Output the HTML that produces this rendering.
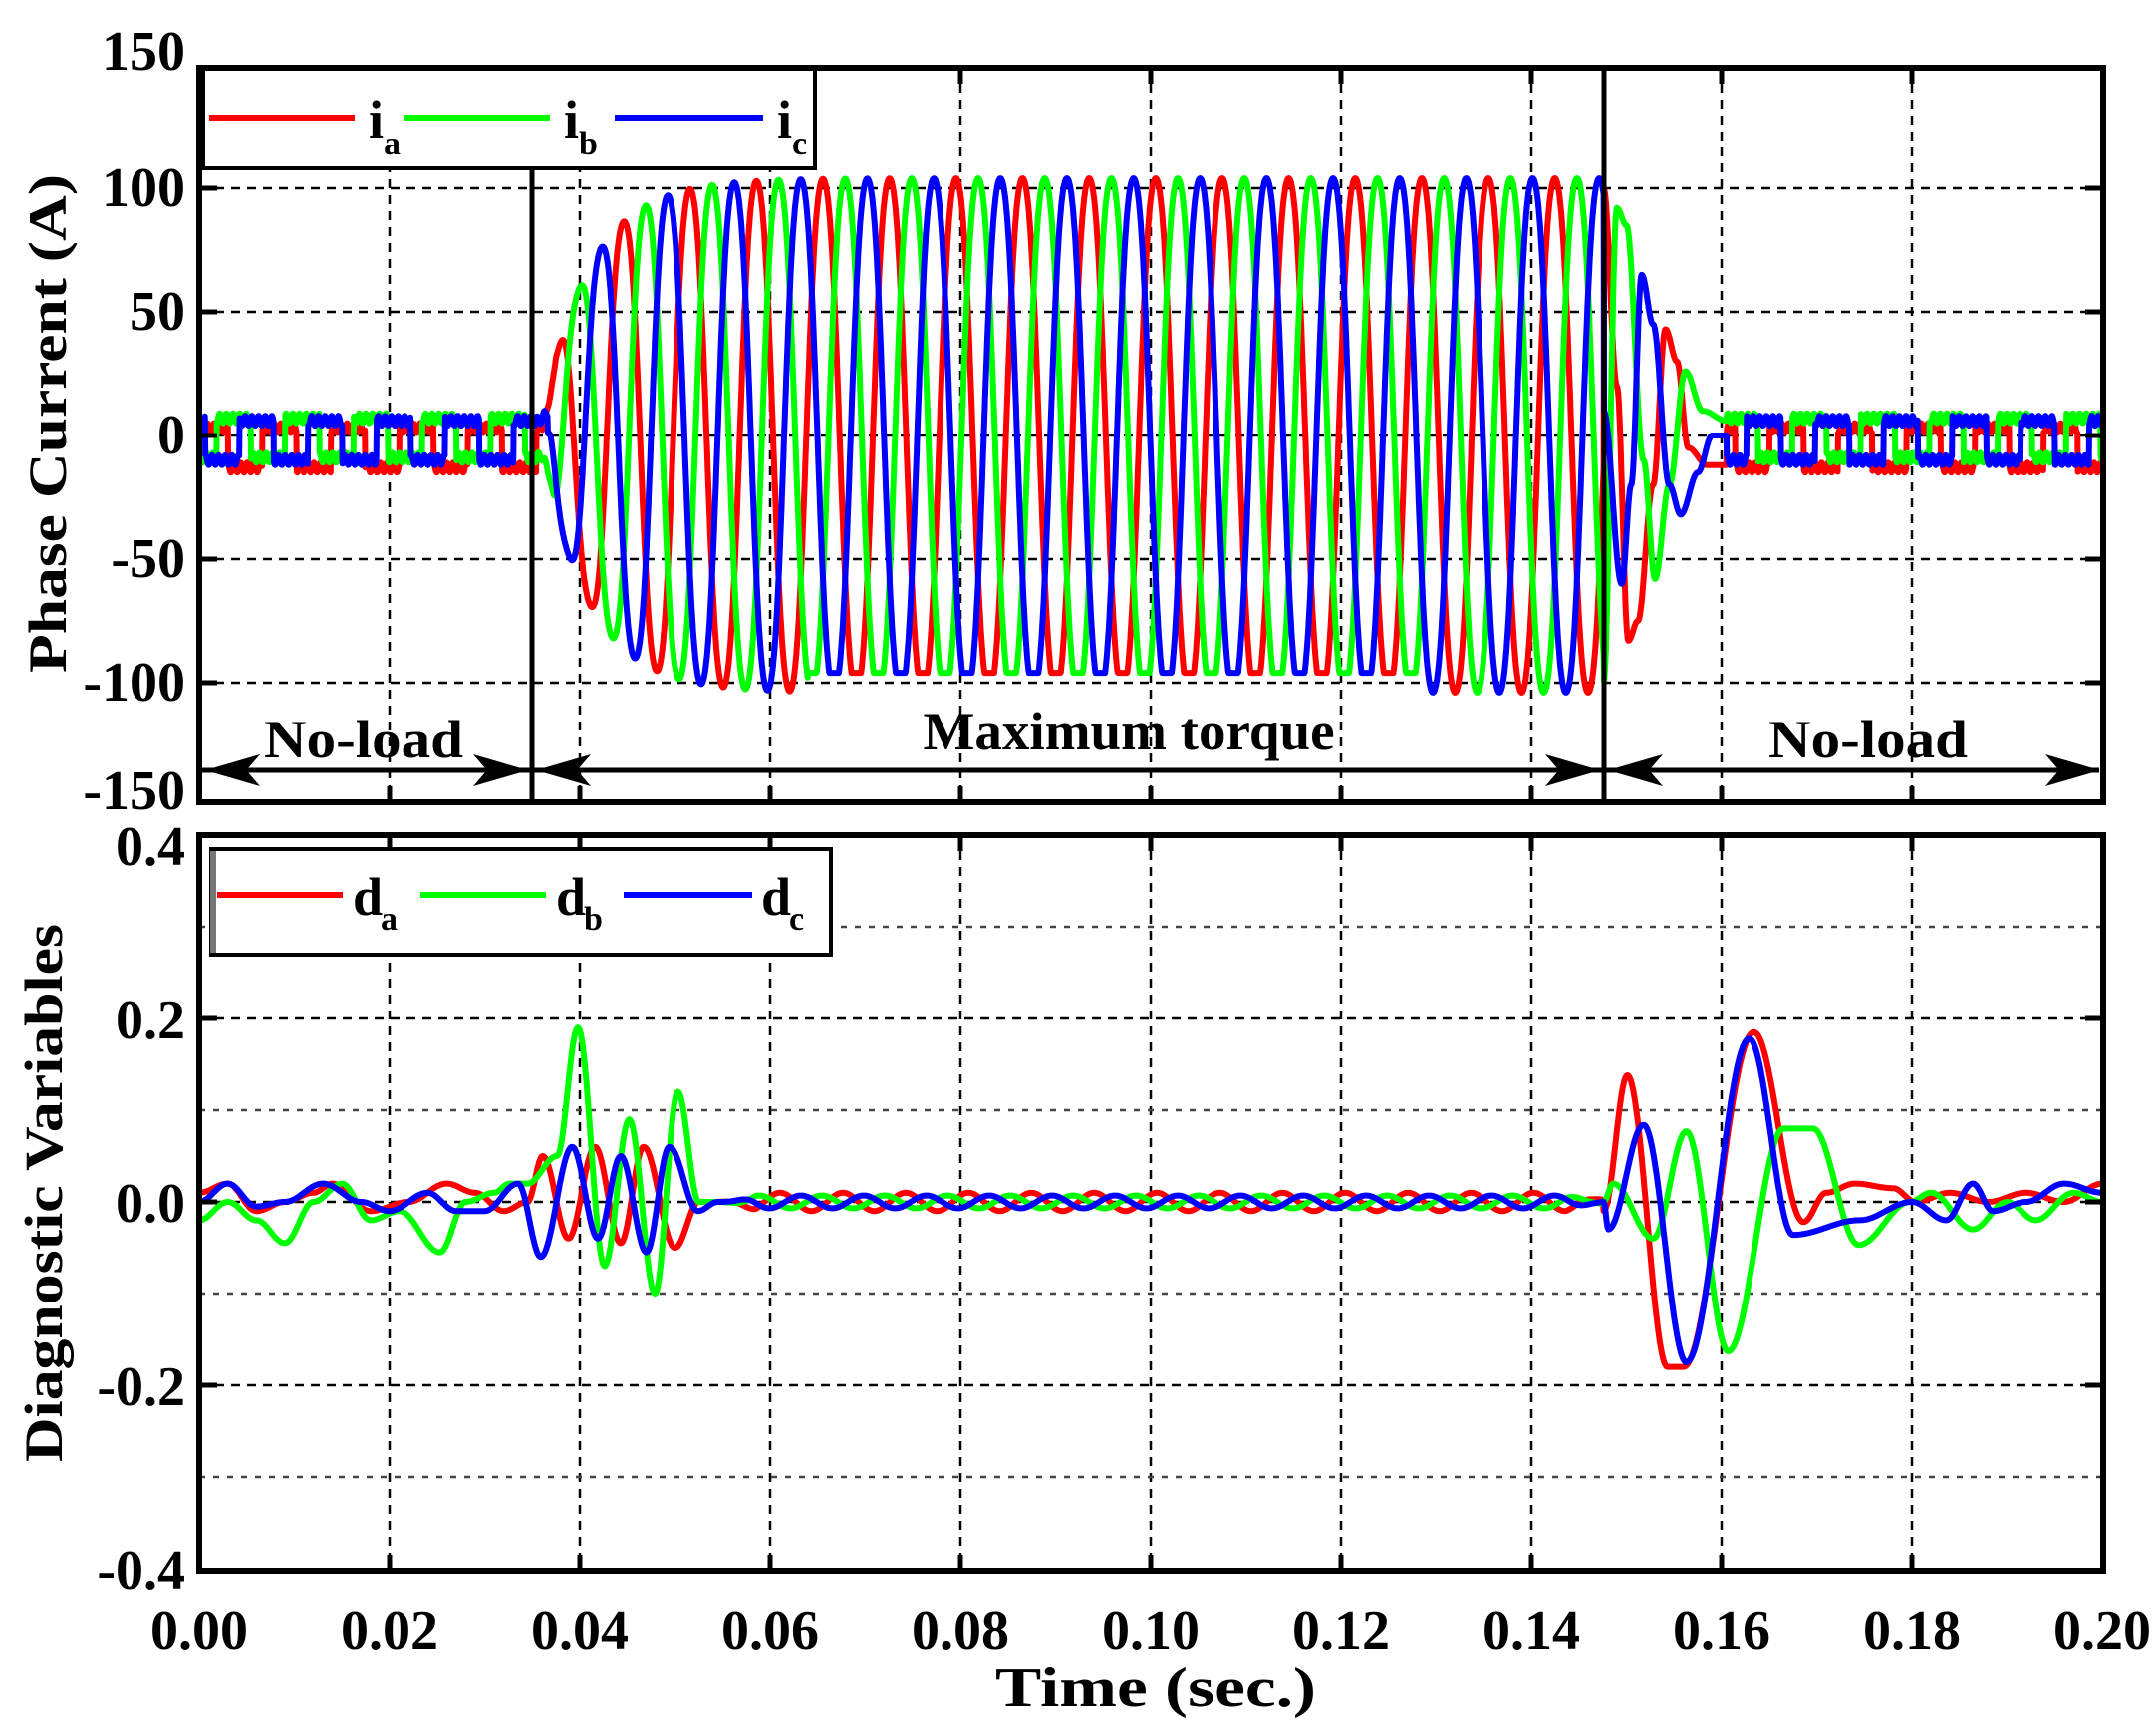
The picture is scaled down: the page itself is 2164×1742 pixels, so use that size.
<!DOCTYPE html>
<html><head><meta charset="utf-8">
<style>
html,body{margin:0;padding:0;background:#fff;}
svg{display:block;}
text{font-family:"Liberation Serif",serif;font-weight:bold;fill:#000;}
</style></head>
<body>
<svg id="s" width="2164" height="1742" viewBox="0 0 2164 1742" xmlns="http://www.w3.org/2000/svg">
<rect width="2164" height="1742" fill="#fff"/>
<g id="grid" stroke="#000" stroke-width="2.5" stroke-dasharray="9 7" fill="none"></g>
<g id="curves" fill="none" stroke-width="6" stroke-linejoin="round"></g>
<g id="frame"></g>
<g font-size="56" text-anchor="end">
<text x="186" y="70">150</text>
<text x="186" y="207">100</text>
<text x="186" y="331">50</text>
<text x="186" y="455">0</text>
<text x="186" y="579">-50</text>
<text x="186" y="703">-100</text>
<text x="186" y="812">-150</text>
<text x="186" y="868">0.4</text>
<text x="186" y="1042">0.2</text>
<text x="186" y="1226">0.0</text>
<text x="186" y="1410">-0.2</text>
<text x="186" y="1594">-0.4</text>
</g>
<g font-size="56" text-anchor="middle">
<text x="200" y="1655">0.00</text>
<text x="391" y="1655">0.02</text>
<text x="582" y="1655">0.04</text>
<text x="773" y="1655">0.06</text>
<text x="964" y="1655">0.08</text>
<text x="1155" y="1655">0.10</text>
<text x="1346" y="1655">0.12</text>
<text x="1537" y="1655">0.14</text>
<text x="1728" y="1655">0.16</text>
<text x="1919" y="1655">0.18</text>
<text x="2110" y="1655">0.20</text>
</g>
<text x="1160" y="1712" font-size="56" text-anchor="middle" textLength="322" lengthAdjust="spacingAndGlyphs">Time (sec.)</text>
<text transform="translate(66,425) rotate(-90)" font-size="54" text-anchor="middle" textLength="500" lengthAdjust="spacingAndGlyphs">Phase Current (A)</text>
<text transform="translate(62,1197) rotate(-90)" font-size="54" text-anchor="middle" textLength="540" lengthAdjust="spacingAndGlyphs">Diagnostic Variables</text>
<g font-size="54" text-anchor="middle">
<text x="365" y="760" textLength="200" lengthAdjust="spacingAndGlyphs">No-load</text>
<text x="1133" y="752" textLength="413" lengthAdjust="spacingAndGlyphs">Maximum torque</text>
<text x="1875" y="760" textLength="200" lengthAdjust="spacingAndGlyphs">No-load</text>
</g>
<g id="arrows"></g>
<rect x="204" y="69" width="614" height="100" fill="#fff" stroke="#000" stroke-width="4"/>
<line x1="210" y1="118" x2="356" y2="118" stroke="#f00" stroke-width="6"/>
<line x1="405" y1="118" x2="552" y2="118" stroke="#0f0" stroke-width="6"/>
<line x1="617" y1="118" x2="766" y2="118" stroke="#00f" stroke-width="6"/>
<text x="370" y="138" font-size="54">i</text><text x="385" y="155" font-size="34">a</text>
<text x="566" y="138" font-size="54">i</text><text x="581" y="155" font-size="34">b</text>
<text x="780" y="138" font-size="54">i</text><text x="795" y="155" font-size="34">c</text>
<rect x="212" y="852" width="622" height="106" fill="#fff" stroke="#000" stroke-width="4"/>
<line x1="214" y1="854" x2="214" y2="956" stroke="#777" stroke-width="6"/>
<line x1="218" y1="898" x2="344" y2="898" stroke="#f00" stroke-width="6"/>
<line x1="422" y1="898" x2="548" y2="898" stroke="#0f0" stroke-width="6"/>
<line x1="626" y1="898" x2="755" y2="898" stroke="#00f" stroke-width="6"/>
<text x="354" y="918" font-size="54">d</text><text x="382" y="933" font-size="34">a</text>
<text x="558" y="918" font-size="54">d</text><text x="586" y="933" font-size="34">b</text>
<text x="764" y="918" font-size="54">d</text><text x="792" y="933" font-size="34">c</text>
</svg>
<script>
(function(){
var NS="http://www.w3.org/2000/svg";
function el(p,tag,a){var e=document.createElementNS(NS,tag);for(var k in a)e.setAttribute(k,a[k]);p.appendChild(e);return e;}
var X=function(t){return 200+t*9550;};
var L=200,R=2111,T1=68,B1=805,T2=838,B2=1576;
var Y1=function(v){return 437-2.48*v;};
var Y2=function(v){return 1206-920*v;};
var grid=document.getElementById('grid');
for(var i=1;i<10;i++){var x=X(i*0.02);
 el(grid,'line',{x1:x,y1:T1,x2:x,y2:B1});
 el(grid,'line',{x1:x,y1:T2,x2:x,y2:B2});}
[100,50,0,-50,-100].forEach(function(v){el(grid,'line',{x1:L,y1:Y1(v),x2:R,y2:Y1(v)});});
[0.3,0.2,0.1,0,-0.1,-0.2,-0.3].forEach(function(v){var a={x1:L,y1:Y2(v),x2:R,y2:Y2(v)};if(Math.abs(v)==0.1||Math.abs(v)==0.3){a.stroke="#444";a['stroke-dasharray']="6 8";}el(grid,'line',a);});
var cv=document.getElementById('curves');
function path(pts,col){var d="";for(var i=0;i<pts.length;i++){d+=(i?"L":"M")+pts[i][0].toFixed(1)+" "+pts[i][1].toFixed(1);}el(cv,'path',{d:d,stroke:col});}
function interp(keys,t){if(t<=keys[0][0])return keys[0][1];for(var i=1;i<keys.length;i++){if(t<=keys[i][0]){var a=keys[i-1],b=keys[i];var u=(t-a[0])/(b[0]-a[0]);u=(1-Math.cos(Math.PI*u))/2;return a[1]+(b[1]-a[1])*u;}}return keys[keys.length-1][1];}
var f=143,t0=0.0355,t1=0.1476;
var cols=['#f00','#0f0','#00f'];
var post=[
 [[t1,100],[0.1490,20],[0.1502,-83],[0.1512,-75],[0.1528,-20],[0.1541,43],[0.1553,30],[0.1565,-5],[0.1585,-12],[0.1605,-12]],
 [[t1,-100],[0.1490,92],[0.1500,85],[0.1518,-10],[0.1530,-58],[0.1545,-20],[0.1562,26],[0.1580,10],[0.1605,6]],
 [[t1,10],[0.1495,-60],[0.1505,-20],[0.1516,65],[0.1528,45],[0.1545,-20],[0.1557,-32],[0.1575,-15],[0.1590,0],[0.1605,0]]
];
var offs=[-5,-1,-2];
for(var k=0;k<3;k++){
 var pts=[];
 for(var t=0;t<=0.2;t+=0.00005){
  var v;
  var ph=2*Math.PI*f*(t-t0)-k*2*Math.PI/3-0.3;
  var nl=offs[k]+8*(Math.sin(2*Math.PI*t/0.0072-k*2.1+0.5)>0?1:-1)+2*Math.sin(t*9000+k);
  if(t<t0){v=nl;}
  else if(t<t1){var A=108*(1-Math.exp(-(t-t0)/0.005));v=A*Math.sin(ph)+4*Math.sin(3*ph);
    if(t>0.064&&t<0.128&&v<-96)v=-96; if(v<-110)v=-110;
    if(t<t0+0.002)v=v*( (t-t0)/0.002 )+nl*(1-(t-t0)/0.002);}
  else if(t<0.1605){v=interp(post[k],t);}
  else{v=nl;}
  pts.push([X(t),Y1(v)]);
 }
 path(pts,cols[k]);
}
var dk=[
 [[0,0.01],[0.003,0.02],[0.006,-0.01],[0.009,0.0],[0.012,0.01],[0.014,0.02],[0.018,-0.01],[0.022,0.0],[0.026,0.02],[0.029,0.01],[0.032,-0.01],[0.0345,0.0],[0.0361,0.05],[0.0388,-0.04],[0.0416,0.06],[0.0443,-0.045],[0.0467,0.06],[0.0500,-0.05],[0.0525,0.0]],
 [[0,-0.02],[0.003,0.0],[0.006,-0.02],[0.009,-0.045],[0.012,0.0],[0.015,0.02],[0.018,-0.02],[0.021,-0.01],[0.0253,-0.055],[0.028,0.0],[0.031,0.01],[0.0326,0.02],[0.0345,0.02],[0.0376,0.05],[0.0398,0.19],[0.0426,-0.07],[0.0452,0.09],[0.0479,-0.10],[0.0503,0.12],[0.0525,0.0]],
 [[0,0.0],[0.003,0.02],[0.006,-0.005],[0.009,0.0],[0.013,0.02],[0.017,0.0],[0.020,-0.01],[0.024,0.01],[0.027,-0.01],[0.030,-0.01],[0.0335,0.02],[0.0359,-0.06],[0.0392,0.06],[0.0419,-0.04],[0.0443,0.05],[0.0470,-0.055],[0.0494,0.06],[0.0524,-0.01],[0.0545,0.0]]
];
var dk2=[
 [[0.1476,-0.01],[0.1501,0.138],[0.1543,-0.18],[0.1560,-0.18],[0.1634,0.185],[0.1686,-0.022],[0.1710,0.01],[0.1740,0.02],[0.1780,0.015],[0.1804,0.0],[0.184,0.01],[0.188,0.0],[0.192,0.01],[0.196,0.0],[0.2,0.02]],
 [[0.1476,0.0],[0.1486,0.02],[0.1528,-0.04],[0.1563,0.077],[0.1607,-0.163],[0.1665,0.08],[0.1696,0.08],[0.1744,-0.047],[0.1798,0.0],[0.182,0.01],[0.1864,-0.03],[0.190,0.0],[0.193,-0.02],[0.197,0.01],[0.2,0.0]],
 [[0.1476,0.0],[0.1481,-0.03],[0.1518,0.084],[0.1563,-0.175],[0.1629,0.178],[0.1675,-0.036],[0.1745,-0.02],[0.180,0.0],[0.1836,-0.02],[0.1864,0.02],[0.1885,-0.01],[0.192,0.0],[0.196,0.02],[0.2,0.01]]
];
var amp=[0.01,0.007,0.007];
for(var k=0;k<3;k++){
 var pts=[];
 for(var t=0;t<=0.2;t+=0.0001){
  var v;
  if(t<=0.0545)v=interp(dk[k],t);
  else if(t>=0.1476)v=interp(dk2[k],t);
  else{var e=Math.min(1,(t-0.0545)/0.004)*Math.min(1,(0.1476-t)/0.004);
   v=amp[k]*Math.sin(2*Math.PI*t/0.0066+k*2.1)*Math.max(e,0.3);
   if(t<0.0585)v=v*(t-0.0545)/0.004;}
  pts.push([X(t),Y2(v)]);
 }
 path(pts,cols[k]);
}
var fr=document.getElementById('frame');
el(fr,'rect',{x:L,y:T1,width:R-L,height:B1-T1,fill:'none',stroke:'#000','stroke-width':6});
el(fr,'rect',{x:L,y:T2,width:R-L,height:B2-T2,fill:'none',stroke:'#000','stroke-width':6});
function tk(x1,y1,x2,y2){el(fr,'line',{x1:x1,y1:y1,x2:x2,y2:y2,stroke:'#000','stroke-width':5});}
for(var i=1;i<10;i++){var x=X(i*0.02);tk(x,T1,x,T1+16);tk(x,B1,x,B1-16);tk(x,T2,x,T2+16);tk(x,B2,x,B2-16);}
[100,50,0,-50,-100].forEach(function(v){tk(L,Y1(v),L+18,Y1(v));tk(R,Y1(v),R-18,Y1(v));});
[0.2,0,-0.2].forEach(function(v){tk(L,Y2(v),L+18,Y2(v));tk(R,Y2(v),R-18,Y2(v));});
el(fr,'line',{x1:534,y1:169,x2:534,y2:B1,stroke:'#000','stroke-width':5});
el(fr,'line',{x1:1610,y1:T1,x2:1610,y2:B1,stroke:'#000','stroke-width':5});
var ar=document.getElementById('arrows');
var ay=773;
el(ar,'line',{x1:L,y1:ay,x2:R-4,y2:ay,stroke:'#000','stroke-width':5});
function head(xt,dir){var l=55,w=16;el(ar,'polygon',{points:xt+","+ay+" "+(xt-dir*l)+","+(ay-w)+" "+(xt-dir*l*0.75)+","+ay+" "+(xt-dir*l)+","+(ay+w),fill:'#000'});}
head(206,-1);head(530,1);head(538,-1);head(1606,1);head(1614,-1);head(2108,1);
})();
</script>
</body></html>
